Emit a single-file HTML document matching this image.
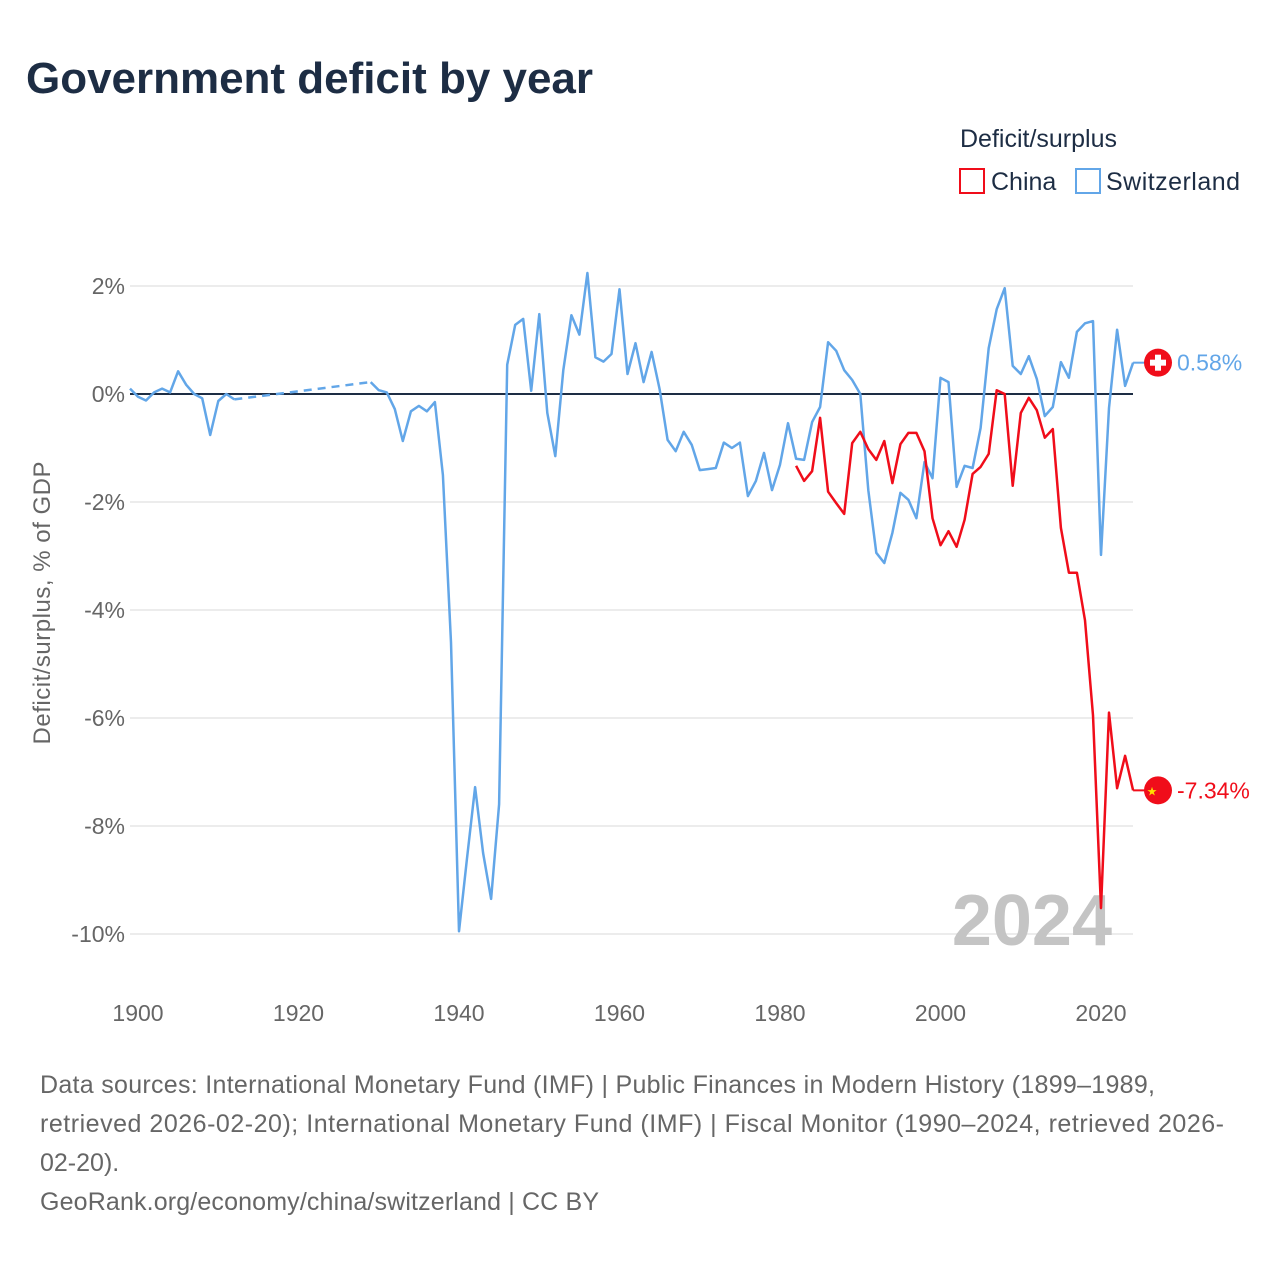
<!DOCTYPE html>
<html><head><meta charset="utf-8"><style>
body{margin:0;background:#fff;font-family:"Liberation Sans",sans-serif;}
svg text{font-family:"Liberation Sans",sans-serif;}
</style></head><body>
<svg id="chart" width="1280" height="1280" viewBox="0 0 1280 1280">
<text x="26" y="93" font-size="44" font-weight="bold" fill="#1d2d44" textLength="567">Government deficit by year</text>
<text x="960" y="147" font-size="25" fill="#1d2d44">Deficit/surplus</text>
<g><rect x="960" y="169" width="24" height="24" fill="none" stroke="#f00d1a" stroke-width="2"/><text x="991" y="190" font-size="25" fill="#1d2d44">China</text></g>
<g><rect x="1076" y="169" width="24" height="24" fill="none" stroke="#62a6e8" stroke-width="2"/><text x="1106" y="190" font-size="25" fill="#1d2d44" textLength="134">Switzerland</text></g>
<g id="grid"></g>
<g id="yticks"></g>
<g id="xticks"></g>
<text transform="translate(50,603) rotate(-90)" text-anchor="middle" font-size="24" fill="#666" textLength="283">Deficit/surplus, % of GDP</text>
<text x="1112" y="945" text-anchor="end" font-size="72" font-weight="bold" fill="#c4c4c4">2024</text>
<g id="series"></g>
<g font-size="25" fill="#666">
<text x="40" y="1093" textLength="1115">Data sources: International Monetary Fund (IMF) | Public Finances in Modern History (1899–1989,</text>
<text x="40" y="1132" textLength="1184">retrieved 2026-02-20); International Monetary Fund (IMF) | Fiscal Monitor (1990–2024, retrieved 2026-</text>
<text x="40" y="1171">02-20).</text>
<text x="40" y="1210" textLength="559">GeoRank.org/economy/china/switzerland | CC BY</text>
</g>
</svg>
<script>
const yTicks=[2,0,-2,-4,-6,-8,-10];
const xTicks=[1900,1920,1940,1960,1980,2000,2020];
const swissYearsA=[1899,1900,1901,1902,1903,1904,1905,1906,1907,1908,1909,1910,1911,1912];
const swissValsA=[0.1,-0.05,-0.12,0.03,0.1,0.03,0.42,0.17,0,-0.08,-0.76,-0.13,0,-0.1];
const swissStartB=1929;
const swissValsB=[0.22,0.07,0.03,-0.28,-0.87,-0.32,-0.22,-0.32,-0.15,-1.5,-4.6,-9.95,-8.6,-7.28,-8.5,-9.35,-7.6,0.54,1.28,1.39,0.06,1.48,-0.35,-1.15,0.44,1.46,1.1,2.24,0.68,0.6,0.74,1.94,0.37,0.94,0.22,0.78,0.09,-0.85,-1.06,-0.7,-0.94,-1.41,-1.39,-1.37,-0.9,-1,-0.9,-1.89,-1.61,-1.09,-1.78,-1.31,-0.54,-1.2,-1.22,-0.52,-0.24,0.96,0.8,0.44,0.26,0,-1.78,-2.94,-3.13,-2.57,-1.83,-1.96,-2.3,-1.26,-1.56,0.3,0.22,-1.72,-1.33,-1.37,-0.63,0.85,1.57,1.96,0.52,0.37,0.7,0.28,-0.41,-0.24,0.59,0.3,1.15,1.31,1.35,-2.98,-0.26,1.19,0.15,0.58];
const chinaStart=1982;
const chinaVals=[-1.33,-1.61,-1.43,-0.44,-1.81,-2.02,-2.22,-0.91,-0.7,-1.02,-1.22,-0.87,-1.65,-0.93,-0.72,-0.72,-1.06,-2.3,-2.8,-2.54,-2.83,-2.33,-1.48,-1.35,-1.11,0.07,0,-1.7,-0.35,-0.07,-0.3,-0.81,-0.65,-2.48,-3.31,-3.31,-4.19,-5.95,-9.52,-5.9,-7.3,-6.7,-7.34];
const NS='http://www.w3.org/2000/svg';
const X=y=>138+(y-1900)*8.025;
const Y=v=>394-v*54;
const L=130,R=1133;
function mk(t,a,p){const e=document.createElementNS(NS,t);for(const k in a)e.setAttribute(k,a[k]);document.getElementById(p).appendChild(e);return e;}
yTicks.forEach(v=>{
 if(v!==0){const g=mk('line',{x1:L,x2:R,y1:Y(v),y2:Y(v),stroke:'#e6e6e6','stroke-width':1.5},'grid');
 
 }
 const t=mk('text',{x:125,y:Y(v)+8,'text-anchor':'end','font-size':23,fill:'#666'},'yticks');t.textContent=v+'%';
 
 
});
xTicks.forEach(y=>{const t=mk('text',{x:X(y),y:1021,'text-anchor':'middle','font-size':23,fill:'#666'},'xticks');t.textContent=y;
 
 });
const z=mk('line',{x1:L,x2:R,y1:Y(0),y2:Y(0),stroke:'#1d2d44','stroke-width':2},'grid');


function path(pts){return pts.map((p,i)=>(i?'L':'M')+X(p[0]).toFixed(1)+' '+Y(p[1]).toFixed(1)).join(' ');}
const blue='#62a6e8',red='#f00d1a';
const sA=swissYearsA.map((y,i)=>[y,swissValsA[i]]);
const sB=swissValsB.map((v,i)=>[swissStartB+i,v]);
const cP=chinaVals.map((v,i)=>[chinaStart+i,v]);
let p=mk('path',{d:path(sA),fill:'none',stroke:blue,'stroke-width':2.5,'stroke-linejoin':'round'},'series');


p=mk('path',{d:path([sA[sA.length-1],sB[0]]),fill:'none',stroke:blue,'stroke-width':2.5,'stroke-dasharray':'8 6'},'series');


p=mk('path',{d:path(sB),fill:'none',stroke:blue,'stroke-width':2.5,'stroke-linejoin':'round'},'series');


p=mk('path',{d:path(cP),fill:'none',stroke:red,'stroke-width':2.5,'stroke-linejoin':'round'},'series');


function endLabel(v,col,name,swiss){
 const y=Y(v),x0=X(2024);
 const l=mk('line',{x1:x0,x2:1146,y1:y,y2:y,stroke:col,'stroke-width':2},'series');
 
 
 const c=mk('circle',{cx:1158,cy:y,r:14,fill:red},'series');
 
 
 if(swiss){mk('rect',{x:1155,y:y-8,width:6,height:16,fill:'#fff'},'series');mk('rect',{x:1150,y:y-3,width:16,height:6,fill:'#fff'},'series');}
 else{const s=mk('text',{x:1152,y:y+5,'font-size':12,fill:'#ffde00','text-anchor':'middle'},'series');s.textContent='★';}
 const t=mk('text',{x:1177,y:y+8,'font-size':23,fill:col},'series');t.textContent=v.toFixed(2)+'%';
 
 
}
endLabel(swissValsB[swissValsB.length-1],blue,'switzerland',true);
endLabel(chinaVals[chinaVals.length-1],red,'china',false);
</script>
</body></html>
